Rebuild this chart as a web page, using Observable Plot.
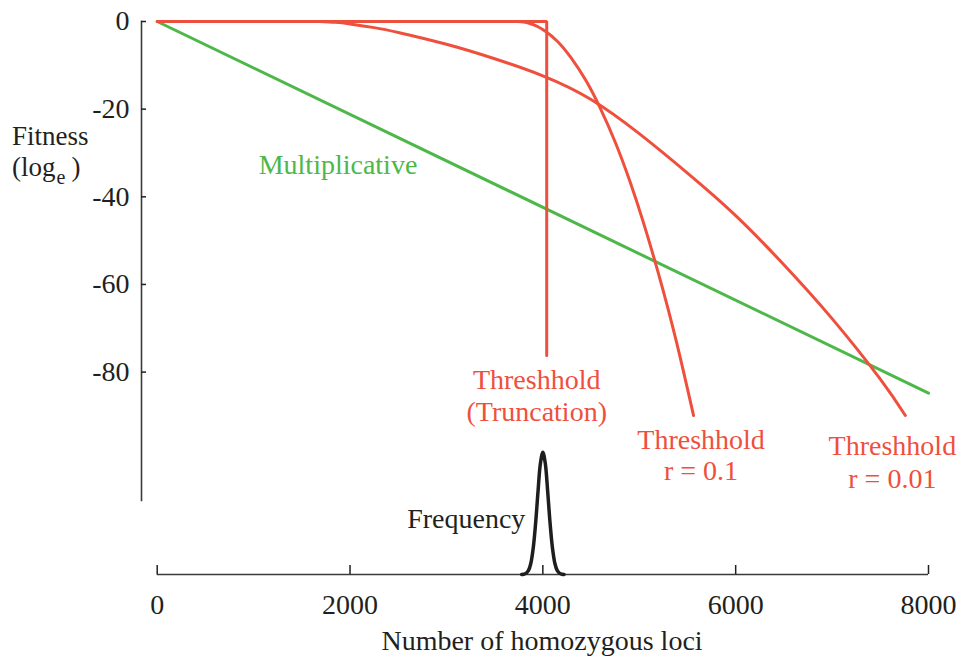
<!DOCTYPE html>
<html>
<head>
<meta charset="utf-8">
<script src="https://cdn.jsdelivr.net/npm/d3@7"></script>
<script src="https://cdn.jsdelivr.net/npm/@observablehq/plot@0.6"></script>
<style>
  body { margin: 0; background: #fff; }
  #wrap { position: relative; width: 959px; height: 658px; font-family: "Liberation Serif", "Times New Roman", serif; color: #231f20; }
  #top, #bottom { position: absolute; left: 0; }
  #top { top: 0; }
  #bottom { top: 430px; }
  .ylab { position: absolute; left: 12px; font-size: 27px; line-height: 20px; white-space: nowrap; }
  #ylab1 { top: 126px; }
  #ylab2 { top: 156.5px; }
  #ylab2 .sub { position: relative; top: 8px; font-size: 20px; margin-left: 1px; margin-right: 6px; }
</style>
</head>
<body>
<div id="wrap">
  <div id="top"></div>
  <div id="bottom"></div>
  <div class="ylab" id="ylab1">Fitness</div>
  <div class="ylab" id="ylab2">(log<span class="sub">e</span>)</div>
</div>
<script>
// ---- data ----
const xDomain = [0, 8000];
const xTicks = [0, 2000, 4000, 6000, 8000];
const yTicks = [0, -20, -40, -60, -80];

const multX = [0, 8000];
const multY = [0, -84.8];

const truncX = [0, 4040, 4040];
const truncY = [0, 0, -76.2];

const r01X = [3740, 3850, 3950, 4030, 4150, 4290, 4450, 4600, 4750, 4900, 5045, 5200, 5380, 5563];
const r01Y = [0, -0.33, -1.2, -2.3, -4.5, -8.2, -13.6, -20.0, -27.5, -36.3, -46.0, -57.6, -72.6, -89.9];

const r001X = [1674, 1850, 2000, 2250, 2500, 3000, 3500, 4000, 4500, 5000, 5500, 6000, 6500, 7000, 7500, 7760];
const r001Y = [0, -0.2, -0.55, -1.4, -2.5, -5.2, -8.5, -12.4, -17.8, -25.6, -34.6, -44.3, -55.5, -67.8, -81.6, -89.9];

const freqX = [3780, 3800, 3825, 3850, 3875, 3900, 3925, 3950, 3975, 4000, 4025, 4050, 4075, 4100, 4125, 4150, 4175, 4200, 4220];
const freqY = [0, 0.002, 0.009, 0.031, 0.09, 0.215, 0.42, 0.68, 0.91, 1, 0.91, 0.68, 0.42, 0.215, 0.09, 0.031, 0.009, 0.002, 0];

const labels = {
  mult: "Multiplicative",
  trunc: "Threshhold\n(Truncation)",
  r01: "Threshhold\nr = 0.1",
  r001: "Threshhold\nr = 0.01",
  freq: "Frequency",
  xLabel: "Number of homozygous loci"
};

// ---- build tables ----
const zip = (xs, ys) => xs.map((x, i) => ({x, y: ys[i]}));
const mult = zip(multX, multY);
const trunc = zip(truncX, truncY);
const r01 = zip(r01X, r01Y);
const r001 = zip(r001X, r001Y);
const freq = zip(freqX, freqY);

const RED = "#ef4f3d";
const GREEN = "#4db849";
const INK = "#231f20";
const FONT = "'Liberation Serif', 'Times New Roman', serif";

const common = {
  width: 959,
  marginLeft: 141,
  marginRight: 31,
  x: {domain: xDomain, insetLeft: 15.7, axis: null},
  style: {fontFamily: FONT, fontSize: "28px", color: INK, background: "transparent", overflow: "visible"}
};

const topPlot = Plot.plot({
  ...common,
  height: 500,
  marginTop: 21,
  marginBottom: 0,
  y: {domain: [-109.3, 0], axis: null},
  marks: [
    Plot.frame({anchor: "left", stroke: "#3a3a3a", strokeWidth: 1.6}),
    Plot.axisY({ticks: yTicks, tickSize: -5, tickPadding: 17, tickFormat: d => String(d), strokeWidth: 1.5, label: null}),
    Plot.line(mult, {x: "x", y: "y", stroke: GREEN, strokeWidth: 3}),
    Plot.line(trunc, {x: "x", y: "y", stroke: RED, strokeWidth: 3, strokeLinejoin: "miter"}),
    Plot.line(r001, {x: "x", y: "y", stroke: RED, strokeWidth: 3, curve: "natural"}),
    Plot.line(r01, {x: "x", y: "y", stroke: RED, strokeWidth: 3, curve: "natural"}),
    Plot.text([labels.mult], {text: d => d, frameAnchor: "top-left", dx: 196.5, dy: 133, textAnchor: "middle", lineAnchor: "top", fill: GREEN}),
    Plot.text([trunc[trunc.length - 1]], {x: "x", y: "y", text: () => labels.trunc, dx: -10, dy: 11, textAnchor: "middle", lineAnchor: "top", lineHeight: 1.14, fill: RED}),
    Plot.text([r01[r01.length - 1]], {x: "x", y: "y", text: () => labels.r01, dx: 7.5, dy: 12, textAnchor: "middle", lineAnchor: "top", lineHeight: 1.1, fill: RED}),
    Plot.text([r001[r001.length - 1]], {x: "x", y: "y", text: () => labels.r001, dx: -13, dy: 17, textAnchor: "middle", lineAnchor: "top", lineHeight: 1.15, fill: RED})
  ]
});
document.getElementById("top").append(topPlot);

const peak = d3.greatest(freq, d => d.y);
const bottomPlot = Plot.plot({
  ...common,
  height: 228,
  marginTop: 21.7,
  marginBottom: 84,
  y: {domain: [0, 1], axis: null},
  marks: [
    Plot.ruleY([0], {x1: xDomain[0], x2: xDomain[1], stroke: "#3a3a3a", strokeWidth: 1.6}),
    Plot.axisX({ticks: xTicks, tickSize: -9, tickPadding: 29, tickFormat: d => String(d), strokeWidth: 1.5, label: null}),
    Plot.line(freq, {x: "x", y: "y", stroke: "#1e1e1e", strokeWidth: 3.5, curve: "catmull-rom"}),
    Plot.text([peak], {x: "x", y: "y", text: () => labels.freq, dx: -17.5, dy: 55.5, textAnchor: "end", lineAnchor: "top"}),
    Plot.text([labels.xLabel], {text: d => d, frameAnchor: "bottom", dx: 7, dy: 56, textAnchor: "middle", lineAnchor: "top"})
  ]
});
document.getElementById("bottom").append(bottomPlot);
</script>
</body>
</html>
